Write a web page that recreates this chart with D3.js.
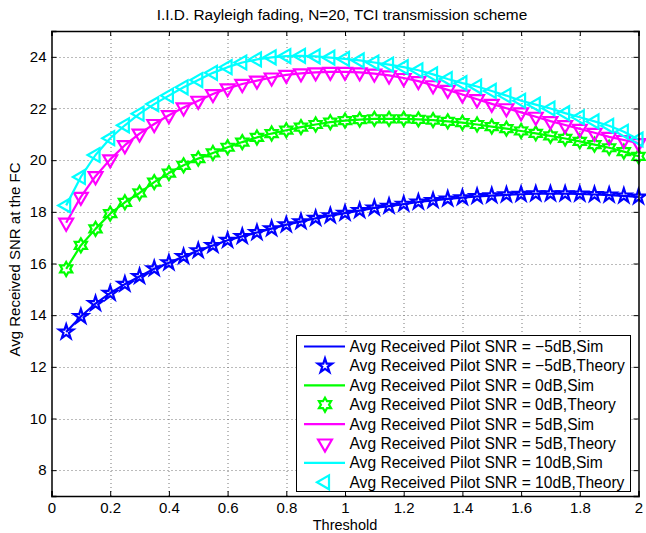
<!DOCTYPE html>
<html>
<head>
<meta charset="utf-8">
<script src="https://cdn.jsdelivr.net/npm/d3@7"></script>
<style>
  body { margin: 0; background: #fff; }
  text { font-family: "Liberation Sans", Arial, Helvetica, sans-serif; fill: #000; }
</style>
</head>
<body>
<div id="d3-target"></div>
<script>
// threshold values (x)
const thresholds = d3.range(1, 41).map(i => +(i * 0.05).toFixed(2));

// avg received SNR at the FC (sim and theory overlap)
const snrM5 = [13.35, 13.95, 14.45, 14.85, 15.2, 15.5, 15.8, 16.03, 16.27, 16.5,
  16.7, 16.9, 17.05, 17.2, 17.35, 17.5, 17.62, 17.75, 17.85, 17.95,
  18.05, 18.15, 18.22, 18.3, 18.38, 18.44, 18.5, 18.55, 18.6, 18.63,
  18.66, 18.68, 18.7, 18.7, 18.7, 18.69, 18.67, 18.65, 18.62, 18.58];
const snr0 = [15.79, 16.7, 17.34, 17.93, 18.37, 18.73, 19.15, 19.5, 19.8, 20.06,
  20.28, 20.5, 20.7, 20.88, 21.03, 21.16, 21.28, 21.38, 21.47, 21.53,
  21.57, 21.6, 21.6, 21.6, 21.58, 21.55, 21.5, 21.45, 21.38, 21.3,
  21.22, 21.13, 21.04, 20.94, 20.84, 20.73, 20.6, 20.48, 20.33, 20.15];
const snr5 = [17.58, 18.58, 19.38, 20.03, 20.58, 21.03, 21.4, 21.74, 22.04, 22.3,
  22.56, 22.78, 22.95, 23.08, 23.2, 23.3, 23.36, 23.4, 23.42, 23.42,
  23.4, 23.35, 23.28, 23.18, 23.06, 22.9, 22.72, 22.54, 22.36, 22.18,
  22.01, 21.85, 21.68, 21.51, 21.36, 21.21, 21.06, 20.9, 20.78, 20.66];
const snr10 = [18.25, 19.35, 20.2, 20.85, 21.35, 21.8, 22.17, 22.5, 22.82, 23.1,
  23.38, 23.6, 23.78, 23.9, 23.98, 24.03, 24.04, 24.02, 23.97, 23.92,
  23.86, 23.78, 23.7, 23.6, 23.48, 23.32, 23.14, 22.98, 22.85, 22.68,
  22.5, 22.3, 22.15, 22.0, 21.82, 21.66, 21.5, 21.33, 21.1, 20.8];

const pilotLabels = ['\u22125dB', '0dB', '5dB', '10dB'];
const xTicks = [0, 0.2, 0.4, 0.6, 0.8, 1, 1.2, 1.4, 1.6, 1.8, 2];
const yTicks = [8, 10, 12, 14, 16, 18, 20, 22, 24];

const margin = {top: 31, right: 7.5, bottom: 37, left: 51.5},
  width = 646 - margin.left - margin.right,
  height = 533 - margin.top - margin.bottom;

const x = d3.scaleLinear().domain([0, 2]).range([0, width]);
const y = d3.scaleLinear().domain([7, 25]).range([height, 0]);

// marker shapes, MATLAB-like
const star5 = r => {
  const pts = d3.range(10).map(k => {
    const a = -Math.PI / 2 + k * Math.PI / 5, rr = k % 2 ? r * 0.382 : r;
    return [rr * Math.cos(a), rr * Math.sin(a)];
  });
  return 'M' + pts.join('L') + 'Z';
};
const star6 = r => {
  const pts = d3.range(12).map(k => {
    const a = -Math.PI / 2 + k * Math.PI / 6, rr = k % 2 ? r * 0.577 : r;
    return [rr * Math.cos(a), rr * Math.sin(a)];
  });
  return 'M' + pts.join('L') + 'Z';
};
const triDown = r => {
  const c = r * Math.cos(Math.PI / 6);
  return `M${-c},${-r / 2}L${c},${-r / 2}L0,${r}Z`;
};
const triLeft = r => {
  const c = r * Math.cos(Math.PI / 6);
  return `M${r / 2},${-c}L${r / 2},${c}L${-r},0Z`;
};

const series = [
  {vals: snrM5, color: '#0000ff', marker: star5(7.5)},
  {vals: snr0, color: '#00ff00', marker: star6(7)},
  {vals: snr5, color: '#ff00ff', marker: triDown(8)},
  {vals: snr10, color: '#00ffff', marker: triLeft(8)}
];

const svgTop = d3.select('#d3-target')
  .append('svg')
  .attr('width', 646)
  .attr('height', 533);

svgTop.append('rect').attr('width', 646).attr('height', 533).attr('fill', '#fff');

const svg = svgTop.append('g')
  .attr('transform', `translate(${margin.left},${margin.top})`);

// grid
const grid = svg.append('g').attr('class', 'grid')
  .attr('stroke', '#777').attr('stroke-width', 1).attr('stroke-dasharray', '1,3');
grid.selectAll('.gx').data(xTicks.slice(1, -1)).enter().append('line')
  .attr('x1', d => Math.round(x(d)) + 0.5).attr('x2', d => Math.round(x(d)) + 0.5)
  .attr('y1', 0).attr('y2', height);
grid.selectAll('.gy').data(yTicks).enter().append('line')
  .attr('y1', d => Math.round(y(d)) + 0.5).attr('y2', d => Math.round(y(d)) + 0.5)
  .attr('x1', 0).attr('x2', width);

// curves
const line = d3.line()
  .x((d, i) => x(thresholds[i]))
  .y(d => y(d));

series.forEach(s => {
  svg.append('path')
    .datum(s.vals)
    .attr('fill', 'none')
    .attr('stroke', s.color)
    .attr('stroke-width', 2.2)
    .attr('stroke-linejoin', 'round')
    .attr('d', line);
  svg.append('g').selectAll('path')
    .data(s.vals)
    .enter().append('path')
    .attr('d', s.marker)
    .attr('fill', 'none')
    .attr('stroke', s.color)
    .attr('stroke-width', 2.2)
    .attr('stroke-linejoin', 'miter')
    .attr('transform', (d, i) => `translate(${x(thresholds[i])},${y(d)})`);
});

// axes with inward ticks on all four sides
const xAxis = d3.axisBottom(x).tickValues(xTicks).tickSize(-5).tickPadding(6)
  .tickFormat(d3.format('~g'));
const yAxis = d3.axisLeft(y).tickValues(yTicks).tickSize(-5).tickPadding(5);

const gx = svg.append('g').attr('transform', `translate(0,${height})`).call(xAxis);
const gy = svg.append('g').call(yAxis);
const gxTop = svg.append('g').call(d3.axisTop(x).tickValues(xTicks).tickSize(-5).tickFormat(''));
const gyRight = svg.append('g').attr('transform', `translate(${width},0)`)
  .call(d3.axisRight(y).tickValues(yTicks).tickSize(-5).tickFormat(''));

[gx, gy, gxTop, gyRight].forEach(g => {
  g.select('.domain').attr('stroke', '#000').attr('stroke-width', 1.5);
  g.selectAll('.tick line').attr('stroke', '#000');
  g.selectAll('.tick text').attr('font-size', 15).attr('font-family', '"Liberation Sans", Arial, sans-serif');
});

// title and axis labels
svgTop.append('text')
  .attr('x', 342).attr('y', 20)
  .attr('text-anchor', 'middle').attr('font-size', 15.4)
  .text('I.I.D. Rayleigh fading, N=20, TCI transmission scheme');

svgTop.append('text')
  .attr('x', margin.left + width / 2).attr('y', 529.8)
  .attr('text-anchor', 'middle').attr('font-size', 14.5)
  .text('Threshold');

svgTop.append('text')
  .attr('transform', `translate(19.5,${margin.top + height / 2 - 4}) rotate(-90)`)
  .attr('text-anchor', 'middle').attr('font-size', 15)
  .text('Avg Received SNR at the FC');

// legend
const legendRows = [];
series.forEach((s, i) => {
  legendRows.push({color: s.color, marker: null, label: `Avg Received Pilot SNR = ${pilotLabels[i]},Sim`});
  legendRows.push({color: s.color, marker: s.marker, label: `Avg Received Pilot SNR = ${pilotLabels[i]},Theory`});
});

const legend = svgTop.append('g').attr('class', 'legend');
legend.append('rect')
  .attr('x', 296.5).attr('y', 335.5)
  .attr('width', 334).attr('height', 156)
  .attr('fill', '#fff').attr('stroke', '#000').attr('stroke-width', 1);

const rows = legend.selectAll('.legend-line')
  .data(legendRows)
  .enter().append('g')
  .attr('class', 'legend-line')
  .attr('transform', (d, i) => `translate(0,${346.5 + i * 19.4})`);

rows.filter(d => !d.marker).append('line')
  .attr('x1', 304).attr('x2', 345).attr('y1', 0).attr('y2', 0)
  .attr('stroke', d => d.color).attr('stroke-width', 2.2);
rows.filter(d => d.marker).append('path')
  .attr('d', d => d.marker)
  .attr('transform', 'translate(325,0)')
  .attr('fill', 'none').attr('stroke', d => d.color).attr('stroke-width', 2.2);
rows.append('text')
  .attr('x', 349.5).attr('y', 5.5)
  .attr('font-size', 15.6)
  .text(d => d.label);
</script>
</body>
</html>
